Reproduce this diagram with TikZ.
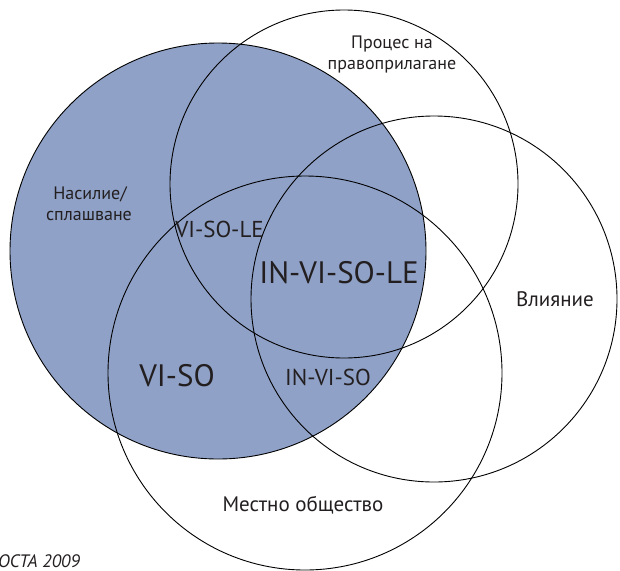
\documentclass[tikz,border=0pt]{standalone}
\usepackage{fontspec}
\setmainfont{PT Sans}
\definecolor{fillblue}{RGB}{143,161,199}
\definecolor{txt}{RGB}{35,31,32}
\tikzset{
  ring/.style={circle, draw=black, line width=0.9pt, inner sep=0pt, outer sep=0pt},
  lbl/.style={text=txt, font=\fontsize{18}{21}\selectfont, inner sep=0pt, anchor=base},
  lblbig/.style={text=txt, font=\fontsize{21}{24}\selectfont, inner sep=0pt, anchor=base},
  mid/.style={text=txt, font=\fontsize{23}{26}\selectfont, inner sep=0pt, anchor=base},
  big/.style={text=txt, font=\fontsize{31}{34}\selectfont, inner sep=0pt, anchor=base}
}
\begin{document}
\begin{tikzpicture}[x=1pt,y=-1pt]
\useasboundingbox (0,0) rectangle (620,570);
% filled circle
\node[ring, fill=fillblue, draw=none, minimum size=416pt] (vfill) at (218,251) {};
% outlines
\node[ring, minimum size=416pt] (violence) at (218,251) {};
\node[ring, minimum size=348pt] (process) at (344,184) {};
\node[ring, minimum size=366pt] (influence) at (434,299) {};
\node[ring, minimum size=394pt] (society) at (305,373) {};
% labels
\node[lbl] (t1) at (392,48) {Процес на};
\node[lbl] (t1b) at (392,69) {правоприлагане};
\node[lbl] (t2) at (90,199) {Насилие/};
\node[lbl] (t2b) at (89,220) {сплашване};
\node[lblbig] (t3) at (555,306) {Влияние};
\node[lblbig] (t4) at (303,511) {Местно общество};
\node[mid] (visole) at (219.5,237) {VI-SO-LE};
\node[big] (invisole) at (339,283) {IN-VI-SO-LE};
\node[mid] (inviso) at (328,385) {IN-VI-SO};
\node[big] (viso) at (177,386) {VI-SO};
\node[text=txt, font=\fontsize{18}{20}\selectfont\itshape, inner sep=0pt, anchor=base west] (src) at (-2,567) {ОСТА 2009};
\end{tikzpicture}
\end{document}
